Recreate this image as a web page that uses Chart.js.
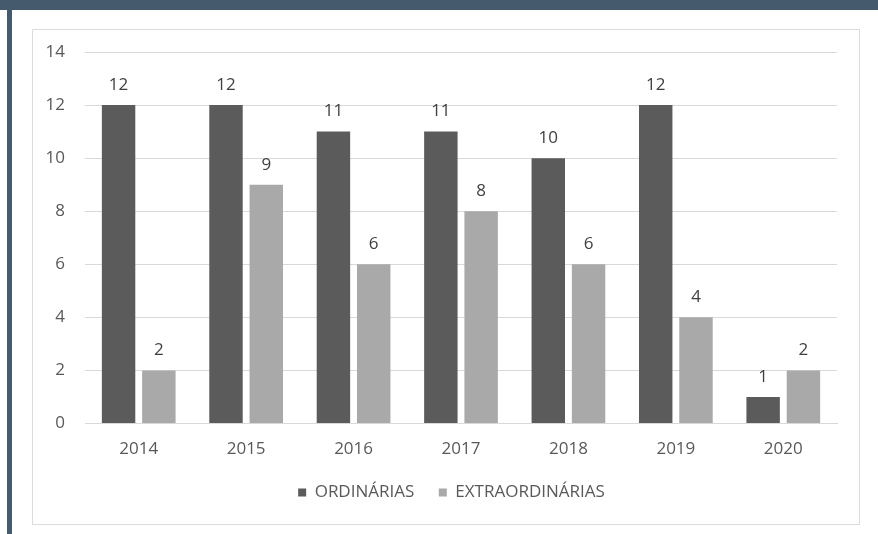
<!DOCTYPE html>
<html>
<head>
<meta charset="utf-8">
<script src="https://cdn.jsdelivr.net/npm/chart.js@4"></script>
<style>
  body { margin: 0; background: #fff; width: 878px; height: 534px; position: relative; overflow: hidden; }
  #topBar { position: absolute; left: 0; top: 0; width: 878px; height: 10px; background: #465a6e; }
  #sideBar { position: absolute; left: 7px; top: 0; width: 5px; height: 534px; background: #465a6e; }
  #frame { position: absolute; left: 32px; top: 29px; width: 826px; height: 494px; border: 1px solid #dcdcdc; background: #fff; }
</style>
</head>
<body>
<div id="topBar"></div>
<div id="sideBar"></div>
<div id="frame"><canvas id="chart" width="826" height="494"></canvas></div>
<script>
// Data
const years = ['2014', '2015', '2016', '2017', '2018', '2019', '2020'];
const ordinarias = [12, 12, 11, 11, 10, 12, 1];
const extraordinarias = [2, 9, 6, 8, 6, 4, 2];
const yTicks = [0, 2, 4, 6, 8, 10, 12, 14];

const textColor = '#595959';
const fontFamily = '"Open Sans", "DejaVu Sans", sans-serif';
const fontSize = 17;

// Simple value labels above each bar
const valueLabels = {
  id: 'valueLabels',
  afterDatasetsDraw(chart) {
    const ctx = chart.ctx;
    ctx.save();
    ctx.font = fontSize + 'px ' + fontFamily;
    ctx.fillStyle = '#404040';
    ctx.textAlign = 'center';
    ctx.textBaseline = 'middle';
    chart.data.datasets.forEach((ds, i) => {
      const meta = chart.getDatasetMeta(i);
      meta.data.forEach((bar, j) => {
        ctx.fillText(ds.data[j], bar.x, bar.y - 20);
      });
    });
    ctx.restore();
  }
};

// Excel centres the legend on the whole frame, not on the plot area
const legendShift = {
  id: 'legendShift',
  afterLayout(chart) {
    chart.legend.left = 33;
    chart.legend.right = 804;
  }
};

const ctx = document.getElementById('chart').getContext('2d');
const chart = new Chart(ctx, {
  type: 'bar',
  data: {
    labels: years,
    datasets: [
      {
        label: 'ORDINÁRIAS',
        data: ordinarias,
        backgroundColor: '#5b5b5b',
        categoryPercentage: 0.75,
        barPercentage: 0.83,
      },
      {
        label: 'EXTRAORDINÁRIAS',
        data: extraordinarias,
        backgroundColor: '#a9a9a9',
        categoryPercentage: 0.75,
        barPercentage: 0.83,
      },
    ],
  },
  options: {
    responsive: false,
    animation: false,
    devicePixelRatio: 1,
    layout: { padding: { left: 0, right: 22, top: 22, bottom: 13 } },
    scales: {
      x: {
        grid: { display: false, drawTicks: false },
        border: { color: '#d9d9d9' },
        ticks: { color: textColor, font: { size: fontSize, family: fontFamily }, padding: 15 },
        afterFit: (scale) => { scale.height = 36; },
      },
      y: {
        min: 0,
        max: 14,
        afterBuildTicks: (scale) => { scale.ticks = yTicks.map(v => ({ value: v })); },
        grid: { color: '#d9d9d9', drawTicks: false },
        border: { display: false },
        ticks: { color: textColor, font: { size: fontSize, family: fontFamily }, padding: 20 },
        afterFit: (scale) => {
          scale.width = 52;
          scale.paddingTop = 10;
          scale.paddingBottom = 10;
        },
      },
    },
    plugins: {
      legend: {
        position: 'bottom',
        labels: {
          color: textColor,
          font: { size: fontSize, family: fontFamily },
          boxWidth: 8,
          boxHeight: 8,
          padding: 24.5,
        },
      },
      tooltip: { enabled: false },
    },
  },
  plugins: [valueLabels, legendShift],
});
</script>
</body>
</html>
